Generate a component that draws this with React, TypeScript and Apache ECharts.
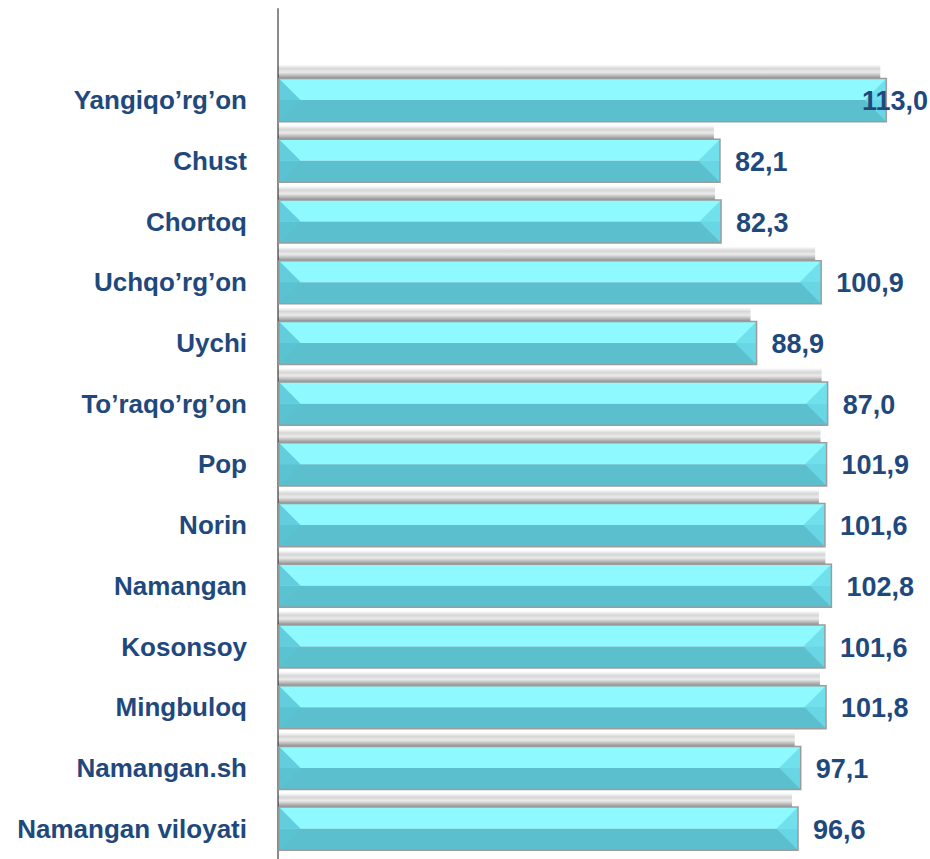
import React, { useEffect, useRef } from "react";
import * as echarts from "echarts";

// Categories from top to bottom
const categories: string[] = [
  "Yangiqo’rg’on",
  "Chust",
  "Chortoq",
  "Uchqo’rg’on",
  "Uychi",
  "To’raqo’rg’on",
  "Pop",
  "Norin",
  "Namangan",
  "Kosonsoy",
  "Mingbuloq",
  "Namangan.sh",
  "Namangan viloyati",
];

// Printed data labels
const labelValues: number[] = [113.0, 82.1, 82.3, 100.9, 88.9, 87.0, 101.9, 101.6, 102.8, 101.6, 101.8, 97.1, 96.6];

// Bar lengths as drawn in the picture (To'raqo'rg'on bar is drawn longer than its label)
const barValues: number[] = [113.0, 82.1, 82.3, 100.9, 88.9, 102.1, 101.9, 101.6, 102.8, 101.6, 101.8, 97.1, 96.6];

const TEXT_COLOR = "#1F497D";
const FONT_FAMILY = "Arial, 'Liberation Sans', Helvetica, sans-serif";
const LABEL_FONT = `bold 27px ${FONT_FAMILY}`;

function fmt(v: number): string {
  return v.toFixed(1).replace(".", ",");
}

let measureCtx: CanvasRenderingContext2D | null = null;
function textWidth(t: string): number {
  if (!measureCtx) {
    const c = document.createElement("canvas");
    measureCtx = c.getContext("2d");
  }
  if (!measureCtx) return t.length * 14;
  measureCtx.font = LABEL_FONT;
  return measureCtx.measureText(t).width;
}

export default function App() {
  const ref = useRef<HTMLDivElement>(null);

  useEffect(() => {
    if (!ref.current) return;
    const chart = echarts.init(ref.current, undefined, { renderer: "svg" });

    const data = barValues.map((v, i) => [v, i + 1]);

    const option: any = {
      animation: false,
      backgroundColor: "#ffffff",
      grid: { left: 278, right: 6, top: 9, bottom: -10, containLabel: false },
      xAxis: {
        type: "value",
        min: 0,
        max: 120,
        show: false,
        splitLine: { show: false },
      },
      yAxis: {
        type: "category",
        inverse: true,
        data: ["", ...categories],
        axisLine: { show: true, lineStyle: { color: "#8a8a8a", width: 2 } },
        axisTick: { show: false },
        splitLine: { show: false },
        axisLabel: {
          margin: 31,
          fontSize: 26,
          fontWeight: "bold",
          fontFamily: FONT_FAMILY,
          color: TEXT_COLOR,
        },
      },
      series: [
        {
          type: "custom",
          clip: false,
          encode: { x: 0, y: 1 },
          data,
          renderItem: (params: any, api: any) => {
            const v = api.value(0);
            const c = api.value(1);
            const start = api.coord([0, c]);
            const end = api.coord([v, c]);
            const band = api.size([0, 1])[1];
            const h = band * 0.71;
            const x0 = start[0] + 1;
            const x1 = end[0];
            const yc = start[1];
            const y0 = yc - h / 2;
            const y1 = yc + h / 2;
            const b = h / 2;
            const w = x1 - x0;
            const label = fmt(labelValues[params.dataIndex]);
            const tw = textWidth(label);
            const chartW = api.getWidth();
            let lx = x1 + 15;
            let align = "left";
            if (lx + tw > chartW - 1) {
              lx = chartW - 2;
              align = "right";
            }
            return {
              type: "group",
              children: [
                {
                  type: "rect",
                  shape: { x: x0 - 1, y: y0 - 14, width: Math.max(w - 5, 0), height: 14 },
                  style: {
                    fill: new echarts.graphic.LinearGradient(0, 0, 0, 1, [
                      { offset: 0, color: "rgba(0,0,0,0)" },
                      { offset: 0.3, color: "rgba(0,0,0,0.16)" },
                      { offset: 0.55, color: "rgba(0,0,0,0.08)" },
                      { offset: 0.85, color: "rgba(0,0,0,0.32)" },
                      { offset: 1, color: "rgba(0,0,0,0.45)" },
                    ]),
                  },
                },
                {
                  type: "rect",
                  shape: { x: x0, y: y0, width: w, height: h / 2 },
                  style: { fill: "#8ef9ff" },
                },
                {
                  type: "rect",
                  shape: { x: x0, y: yc, width: w, height: h / 2 },
                  style: { fill: "#5cbfce" },
                },
                {
                  type: "polygon",
                  shape: { points: [[x0, y0], [x0 + b, yc], [x0, yc]] },
                  style: { fill: "#62cddc" },
                },
                {
                  type: "polygon",
                  shape: { points: [[x0, yc], [x0 + b, yc], [x0, y1]] },
                  style: { fill: "#5ac3d2" },
                },
                {
                  type: "polygon",
                  shape: { points: [[x1, y0], [x1 - b, yc], [x1, yc]] },
                  style: { fill: "#70e0ec" },
                },
                {
                  type: "polygon",
                  shape: { points: [[x1, yc], [x1 - b, yc], [x1, y1]] },
                  style: { fill: "#68d6e4" },
                },
                {
                  type: "rect",
                  shape: { x: x0, y: y0, width: w, height: h },
                  style: { fill: "none", stroke: "#9c9c9c", lineWidth: 1.5 },
                },
                {
                  type: "text",
                  style: {
                    text: label,
                    x: lx,
                    y: yc + 1,
                    align,
                    verticalAlign: "middle",
                    font: LABEL_FONT,
                    fill: TEXT_COLOR,
                  },
                },
              ],
            };
          },
        },
      ],
    };

    chart.setOption(option);
    return () => {
      chart.dispose();
    };
  }, []);

  return (
    <div
      ref={ref}
      style={{ position: "absolute", left: 0, top: 0, width: 930, height: 859 }}
    />
  );
}
